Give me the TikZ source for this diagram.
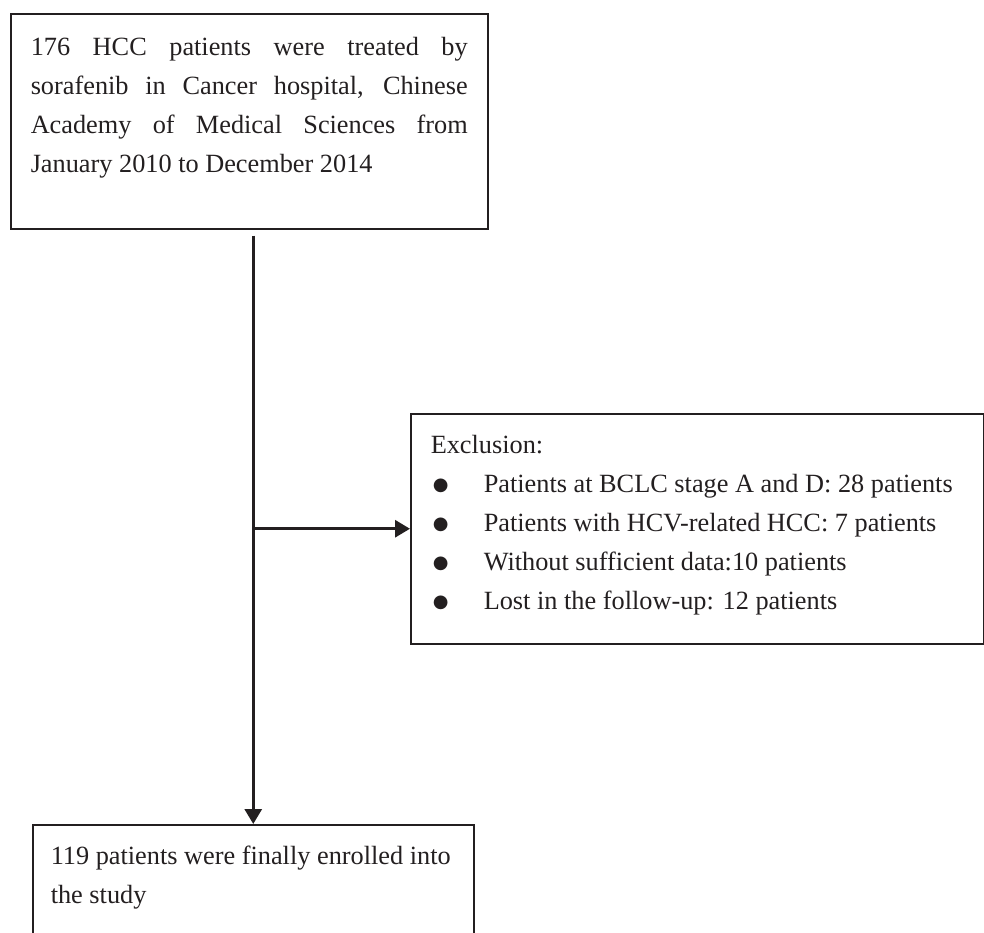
\documentclass[tikz,border=0pt]{standalone}
\usepackage{fontspec}
\setmainfont{Liberation Serif}
\newfontfamily\symfont{DejaVu Sans}
\usetikzlibrary{arrows.meta}
\definecolor{ink}{HTML}{231F20}
\newcommand{\bul}{\makebox[26.5pt][l]{\hspace{1pt}\raisebox{1pt}{\symfont\fontsize{9}{9}\selectfont ●}}}
\tikzset{
  flowbox/.style={draw=ink,text=ink,line width=0.75pt,anchor=north west,inner ysep=0pt,
    font=\fontsize{13.15}{19.5}\selectfont},
  flowline/.style={draw=ink,line width=1.5pt,-{Triangle[length=7.5pt,width=8.5pt]}}
}

\begin{document}
\begin{tikzpicture}[x=0.5pt,y=-0.5pt]
  \useasboundingbox (0,0) rectangle (984,932);
  \node[flowbox,inner xsep=10pt] (start) at (10,13) {\parbox[c][107.5pt][t]{218.5pt}{\rule{0pt}{21pt}176 HCC patients were treated by\linebreak sorafenib in Cancer hospital, Chinese\linebreak Academy of Medical Sciences from\linebreak January 2010 to December 2014}};
  \node[flowbox,inner xsep=10pt] (excl) at (410,413) {\parbox[c][115pt][t]{266.5pt}{\rule{0pt}{20pt}Exclusion:\\
    \bul Patients at BCLC stage A and D: 28 patients\\
    \bul Patients with HCV-related HCC: 7 patients\\
    \bul Without sufficient data:10 patients\\
    \bul Lost in the follow-up: 12 patients}};
  \node[flowbox,inner xsep=9pt] (final) at (32,824) {\parbox[c][70pt][t]{202.5pt}{\rule{0pt}{20pt}119 patients were finally enrolled into\newline the study}};
  \coordinate (trunk) at ([yshift=-3pt]start.south -| final.north);
  \draw[flowline] (trunk) -- (final.north);
  \draw[flowline] (trunk |- excl.west) -- (excl.west);
\end{tikzpicture}
\end{document}
